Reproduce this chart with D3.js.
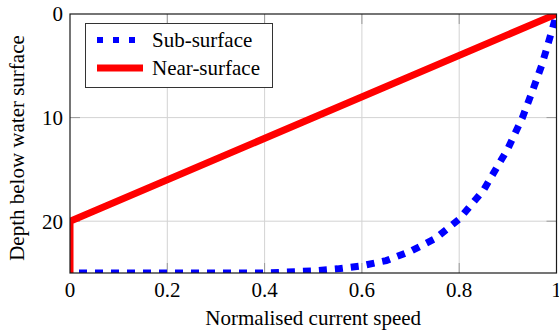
<!DOCTYPE html>
<html>
<head>
<meta charset="utf-8">
<script src="https://cdn.jsdelivr.net/npm/d3@7"></script>
<style>
  html, body { margin: 0; padding: 0; background: #fff; }
  svg { display: block; font-family: "Liberation Serif", "Times New Roman", serif; }
</style>
</head>
<body>
<svg id="chart" width="559" height="334"></svg>
<script>
// ---- data ----
const xTicks = [0, 0.2, 0.4, 0.6, 0.8, 1];
const xTickLabels = ["0", "0.2", "0.4", "0.6", "0.8", "1"];
const yTicks = [0, 10, 20];
const yTickLabels = ["0", "10", "20"];

// Sub-surface profile (speed, depth)
const subSpeed = [0, 0.1, 0.2, 0.3, 0.4, 0.5, 0.55, 0.6, 0.65, 0.7, 0.75, 0.8, 0.85, 0.9, 0.93, 0.95, 0.97, 0.99, 1.0];
const subDepth = [25, 25, 25, 25, 25, 24.8, 24.6, 24.3, 23.8, 22.9, 21.7, 19.8, 17.0, 13.0, 10.0, 7.5, 4.9, 1.7, 0];

// Near-surface profile
const nearSpeed = [0, 0, 1];
const nearDepth = [25, 20, 0];

const legendLabels = ["Sub-surface", "Near-surface"];

// ---- layout ----
const svg = d3.select("#chart");
const L = 70, R = 556.5, T = 14, B = 273;
const x = d3.scaleLinear().domain([0, 1]).range([L, R]);
const y = d3.scaleLinear().domain([0, 25]).range([T, B]);
const FS = 21;

svg.append("defs").append("clipPath").attr("id", "clip")
  .append("rect").attr("x", L).attr("y", T).attr("width", R - L).attr("height", B - T);

// grid
const grid = svg.append("g").attr("stroke", "#d3d3d3").attr("stroke-width", 1);
xTicks.filter(v => v > 0 && v < 1).forEach(v => {
  grid.append("line").attr("x1", x(v)).attr("x2", x(v)).attr("y1", T).attr("y2", B);
});
yTicks.filter(v => v > 0 && v < 25).forEach(v => {
  grid.append("line").attr("x1", L).attr("x2", R).attr("y1", y(v)).attr("y2", y(v));
});

// tick marks (inside, on all sides)
const tk = svg.append("g").attr("stroke", "#9a9a9a").attr("stroke-width", 1);
const tl = 10;
xTicks.filter(v => v > 0 && v < 1).forEach(v => {
  tk.append("line").attr("x1", x(v)).attr("x2", x(v)).attr("y1", B).attr("y2", B - tl);
  tk.append("line").attr("x1", x(v)).attr("x2", x(v)).attr("y1", T).attr("y2", T + tl);
});
yTicks.filter(v => v > 0 && v < 25).forEach(v => {
  tk.append("line").attr("x1", L).attr("x2", L + tl).attr("y1", y(v)).attr("y2", y(v));
  tk.append("line").attr("x1", R).attr("x2", R - tl).attr("y1", y(v)).attr("y2", y(v));
});

// lines
const lineGen = d3.line().x(d => x(d[0])).y(d => y(d[1]));
const plot = svg.append("g").attr("clip-path", "url(#clip)");

const subData = subSpeed.map((s, i) => [s, subDepth[i]]);
const nearData = nearSpeed.map((s, i) => [s, nearDepth[i]]);

plot.append("path").datum(subData)
  .attr("d", lineGen)
  .attr("fill", "none")
  .attr("stroke", "#0000ff")
  .attr("stroke-width", 7)
  .attr("stroke-dasharray", "8,8")
  .attr("stroke-dashoffset", 7);

plot.append("path").datum(nearData)
  .attr("d", lineGen)
  .attr("fill", "none")
  .attr("stroke", "#ff0000")
  .attr("stroke-width", 7)
  .attr("stroke-linejoin", "miter");

// frame
svg.append("rect").attr("x", L).attr("y", T).attr("width", R - L).attr("height", B - T)
  .attr("fill", "none").attr("stroke", "#1a1a1a").attr("stroke-width", 1.2);

// tick labels
const xl = svg.append("g").attr("font-size", FS).attr("fill", "#000").attr("text-anchor", "middle");
xTicks.forEach((v, i) => {
  xl.append("text").attr("x", x(v)).attr("y", 297).text(xTickLabels[i]);
});
const yl = svg.append("g").attr("font-size", FS).attr("fill", "#000").attr("text-anchor", "end");
yTicks.forEach((v, i) => {
  yl.append("text").attr("x", 63).attr("y", y(v)).attr("dy", "0.35em").text(yTickLabels[i]);
});

// axis labels
svg.append("text").attr("x", (L + R) / 2).attr("y", 325)
  .attr("text-anchor", "middle").attr("font-size", FS).text("Normalised current speed");
svg.append("text")
  .attr("transform", `translate(24,148) rotate(-90)`)
  .attr("text-anchor", "middle").attr("font-size", FS).text("Depth below water surface");

// legend
const lg = svg.append("g");
lg.append("rect").attr("x", 85.5).attr("y", 23.5).attr("width", 187).attr("height", 64)
  .attr("fill", "#fff").attr("stroke", "#333").attr("stroke-width", 1);
const legY = [40, 68];
lg.append("line").attr("x1", 97).attr("x2", 143).attr("y1", legY[0]).attr("y2", legY[0])
  .attr("stroke", "#0000ff").attr("stroke-width", 6).attr("stroke-dasharray", "6,10");
lg.append("line").attr("x1", 97).attr("x2", 143).attr("y1", legY[1]).attr("y2", legY[1])
  .attr("stroke", "#ff0000").attr("stroke-width", 7);
legendLabels.forEach((t, i) => {
  lg.append("text").attr("x", 152).attr("y", legY[i]).attr("dy", "0.33em")
    .attr("font-size", FS).text(t);
});
</script>
</body>
</html>
